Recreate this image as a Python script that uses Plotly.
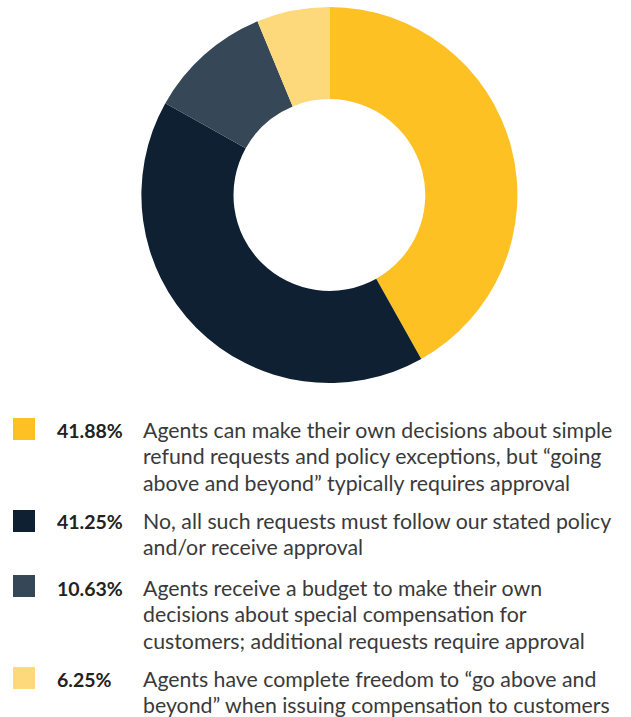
import plotly.graph_objects as go

W, H = 631, 717

labels = [
    "Agents can make their own decisions about simple refund requests and policy exceptions, but “going above and beyond” typically requires approval",
    "No, all such requests must follow our stated policy and/or receive approval",
    "Agents receive a budget to make their own decisions about special compensation for customers; additional requests require approval",
    "Agents have complete freedom to “go above and beyond” when issuing compensation to customers",
]
values = [41.88, 41.25, 10.63, 6.25]
pct_labels = ["41.88%", "41.25%", "10.63%", "6.25%"]
desc_lines = [
    ["Agents can make their own decisions about simple",
     "refund requests and policy exceptions, but “going",
     "above and beyond” typically requires approval"],
    ["No, all such requests must follow our stated policy",
     "and/or receive approval"],
    ["Agents receive a budget to make their own",
     "decisions about special compensation for",
     "customers; additional requests require approval"],
    ["Agents have complete freedom to “go above and",
     "beyond” when issuing compensation to customers"],
]
colors = ["#FDC123", "#0F2033", "#364858", "#FDD97B"]

# legend layout (pixels from top-left)
sq_tops = [418, 510, 575, 667]
first_baselines = [437, 528, 595, 686]
line_gap = 26.2
sq_size = 22
sq_x = 13
pct_x = 55
desc_x = 141
PCT_FONT = "Lato"
PCT_FS = 19.5
DESC_FONT = "Lato"
DESC_FS = 21.3


def py(p):
    return 1 - p / H


def px(p):
    return p / W


fig = go.Figure()
fig.add_trace(go.Pie(
    labels=labels,
    values=values,
    hole=0.51,
    sort=False,
    direction="clockwise",
    rotation=0,
    marker=dict(colors=colors, line=dict(width=0)),
    textinfo="none",
    hoverinfo="label+percent",
    domain=dict(x=[0.044, 1.0], y=[py(383), py(7)]),
    showlegend=False,
))

shapes = []
annotations = []
for i in range(len(values)):
    top = sq_tops[i]
    shapes.append(dict(
        type="rect", xref="paper", yref="paper",
        x0=px(sq_x), x1=px(sq_x + sq_size),
        y0=py(top + sq_size), y1=py(top),
        fillcolor=colors[i], line=dict(width=0),
    ))
    b0 = first_baselines[i]
    annotations.append(dict(
        xref="paper", yref="paper", x=px(pct_x), y=py(b0 - 0.32 * PCT_FS),
        xanchor="left", yanchor="middle", showarrow=False,
        text="<b>" + pct_labels[i] + "</b>",
        font=dict(family=PCT_FONT, size=PCT_FS, color="#222222"),
    ))
    for j, line in enumerate(desc_lines[i]):
        b = b0 + j * line_gap
        annotations.append(dict(
            xref="paper", yref="paper", x=px(desc_x), y=py(b - 0.32 * DESC_FS),
            xanchor="left", yanchor="middle", showarrow=False, align="left",
            text=line,
            font=dict(family=DESC_FONT, size=DESC_FS, color="#3a3a3a"),
        ))

fig.update_layout(
    width=W, height=H,
    margin=dict(l=0, r=0, t=0, b=0),
    paper_bgcolor="white", plot_bgcolor="white",
    shapes=shapes, annotations=annotations,
    showlegend=False,
)

fig.write_html("out.html")
